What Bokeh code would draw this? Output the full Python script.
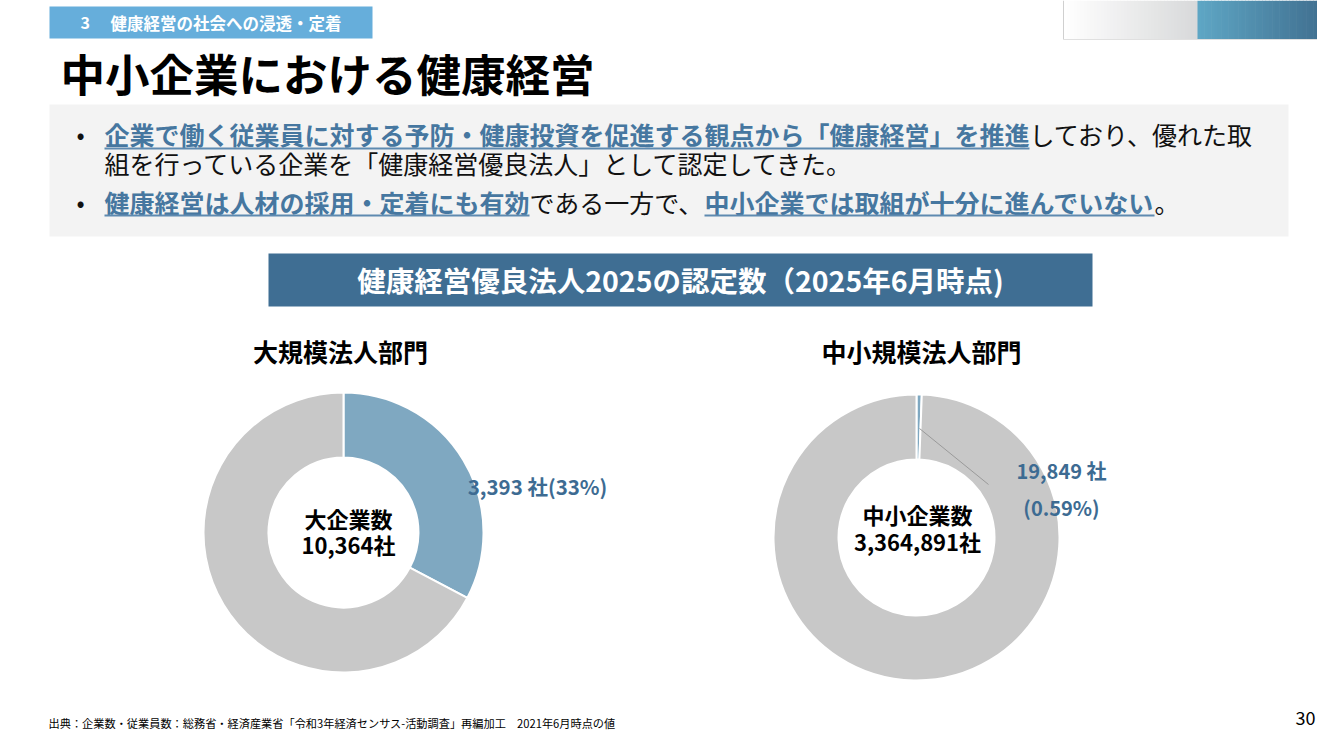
import numpy as np
from bokeh.plotting import figure
from bokeh.models import Range1d
from bokeh.core.properties import value
from bokeh.embed import file_html
from bokeh.resources import INLINE

# ---------------- data ----------------
section_no = "3"
section_title = "健康経営の社会への浸透・定着"
page_title = "中小企業における健康経営"
banner_title = "健康経営優良法人2025の認定数（2025年6月時点)"

bullet1 = [("企業で働く従業員に対する予防・健康投資を促進する観点から「健康経営」を推進", True),
           ("しており、優れた取", False)]
bullet1b = [("組を行っている企業を「健康経営優良法人」として認定してきた。", False)]
bullet2 = [("健康経営は人材の採用・定着にも有効", True), ("である一方で、", False),
           ("中小企業では取組が十分に進んでいない", True), ("。", False)]

large_title = "大規模法人部門"
large_center = ["大企業数", "10,364社"]
large_total = 10364
large_certified = 3393
large_label = "3,393 社(33%)"

small_title = "中小規模法人部門"
small_center = ["中小企業数", "3,364,891社"]
small_total = 3364891
small_certified = 19849
small_label = ["19,849 社", "(0.59%)"]

source_note = "出典：企業数・従業員数：総務省・経済産業省「令和3年経済センサス-活動調査」再編加工　2021年6月時点の値"
page_no = "30"

# ---------------- style ----------------
FONT = "Noto Sans CJK JP"
BLUE_TXT = "#4677A0"
LABEL_BLUE = "#3D6B92"
SLICE_BLUE = "#7FA8C1"
SLICE_GRAY = "#C8C8C8"
H = 750


def Y(py):
    return H - py


p = figure(width=1317, height=734, x_range=Range1d(0, 1317), y_range=Range1d(16, 750),
           output_backend="svg", toolbar_location=None, min_border=0,
           x_axis_location=None, y_axis_location=None)
p.grid.visible = False
p.outline_line_color = None
p.background_fill_color = "white"
p.border_fill_color = "white"


def txt(x, y, s, size, color="black", bold=False, align="left"):
    p.text(x=[x], y=[Y(y)], text=[s], text_font=value(FONT), text_font_size=f"{size}px",
           text_color=color, text_font_style="bold" if bold else "normal",
           text_align=align, text_baseline="middle")


def rect(l, r, t, b, color, line=None):
    p.quad(left=[l], right=[r], top=[Y(t)], bottom=[Y(b)], fill_color=color,
           line_color=line)


def hexmix(c1, c2, t):
    a = np.array([int(c1[i:i + 2], 16) for i in (1, 3, 5)], float)
    b = np.array([int(c2[i:i + 2], 16) for i in (1, 3, 5)], float)
    c = (a + (b - a) * t).round().astype(int)
    return "#%02x%02x%02x" % tuple(c)


def gradient(l, r, t, b, c1, c2, n=40):
    xs = np.linspace(l, r, n + 1)
    cols = [hexmix(c1, c2, i / (n - 1)) for i in range(n)]
    p.quad(left=xs[:-1], right=xs[1:] + 0.6, top=Y(t), bottom=Y(b), fill_color=cols,
           line_color=None)


# ---------------- header ----------------
rect(49, 372, 6, 38, "#66AEDB")
txt(80, 22, section_no, 16, "white", True)
txt(110, 22, section_title, 16.5, "white", True)

gradient(1063, 1197, 0, 39, "#FFFFFF", "#D8D9DA")
gradient(1197, 1333, 0, 39, "#5EA6C4", "#3E6B8C")
p.line([1063, 1063], [Y(0), Y(39)], line_color="#D0D0D0", line_width=1)
p.line([1063, 1333], [Y(39), Y(39)], line_color="#E0E0E0", line_width=1)

txt(60, 72, page_title, 44.5, "black", True)

# ---------------- bullet box ----------------
rect(49, 1288, 104, 236, "#F3F3F3")
CW = 25
X0 = 104


def bullet_line(segs, y, uy):
    x = X0
    for s, hi in segs:
        txt(x, y, s, CW, BLUE_TXT if hi else "#111111", hi)
        w = len(s) * CW
        if hi:
            p.line([x, x + w], [Y(uy), Y(uy)], line_color="#5E8AB0", line_width=2)
        x += w


txt(76, 133, "•", 24, "#111111")
bullet_line(bullet1, 133, 148)
bullet_line(bullet1b, 162, 177)
txt(76, 201, "•", 24, "#111111")
bullet_line(bullet2, 201, 215)

# ---------------- banner ----------------
rect(268, 1092, 253, 306, "#3F6E93")
txt(680, 279, banner_title, 28.5, "white", True, "center")

# ---------------- donuts ----------------


def donut(cx, cy, vals, colors, r_in, r_out):
    v = np.array(vals, float)
    frac = v / v.sum()
    ends = np.cumsum(frac)
    starts = ends - frac
    p.annular_wedge(x=cx, y=Y(cy), inner_radius=r_in, outer_radius=r_out,
                    start_angle=np.pi / 2 - 2 * np.pi * starts,
                    end_angle=np.pi / 2 - 2 * np.pi * ends,
                    direction="clock", fill_color=colors, line_color="white",
                    line_width=2)


txt(340, 350, large_title, 25, "black", True, "center")
donut(343, 532, [large_certified, large_total - large_certified], [SLICE_BLUE, SLICE_GRAY], 75, 140)
txt(348, 517, large_center[0], 22, "black", True, "center")
txt(348, 543, large_center[1], 22, "black", True, "center")
txt(537, 485, large_label, 20.5, LABEL_BLUE, True, "center")

txt(921, 350, small_title, 25, "black", True, "center")
donut(916, 537, [small_certified, small_total - small_certified], [SLICE_BLUE, SLICE_GRAY], 78, 143)
p.line([919, 988], [Y(428), Y(484)], line_color="#9A9A9A", line_width=1)
txt(917, 513, small_center[0], 22, "black", True, "center")
txt(917, 540, small_center[1], 22, "black", True, "center")
txt(1061, 470, small_label[0], 20, LABEL_BLUE, True, "center")
txt(1061, 507, small_label[1], 20, LABEL_BLUE, True, "center")

# ---------------- footer ----------------
txt(48, 722, source_note, 11.2, "black")
txt(1305, 717, page_no, 18, "black", False, "center")

open("out.html", "w").write(file_html(p, INLINE))
